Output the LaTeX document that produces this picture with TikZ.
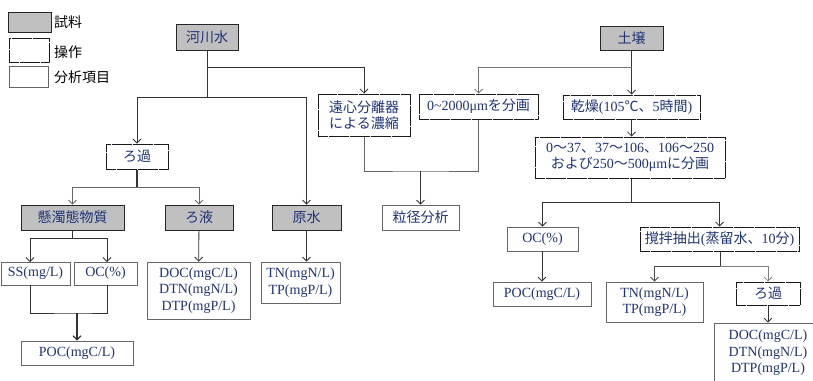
\documentclass[tikz,border=0pt]{standalone}
\usepackage{fontspec}
\setmainfont{Liberation Serif}
\newfontfamily\jp{Noto Sans CJK JP}
\usetikzlibrary{arrows.meta,calc}
\definecolor{textblue}{RGB}{32,52,118}
\definecolor{sample}{RGB}{192,192,192}
\tikzset{
  box/.style={inner sep=0pt, align=center, text=textblue, font=\fontsize{14}{16.5}\selectfont},
  samplebox/.style={box, draw=black!85, fill=sample, line width=0.8pt},
  opbox/.style={box, draw=black!90, dash pattern=on 0.7pt off 0.35pt, line width=1pt, fill=white},
  anabox/.style={box, draw=black!60, line width=0.8pt, fill=white},
  conn/.style={draw=black!80, line width=0.8pt},
  arr/.style={conn, -{Straight Barb[length=4pt,width=8pt]}},
  legtext/.style={anchor=west, inner sep=0pt, font=\jp\fontsize{14}{16}\selectfont}
}
\begin{document}
\begin{tikzpicture}[x=1pt,y=-1pt]
\useasboundingbox (0,0) rectangle (813,380);
\clip (0,0) rectangle (813,380);
% legend
\node[samplebox, minimum width=43pt, minimum height=20pt] (l1) at (29.5,22) {};
\node[legtext] (l1t) at (54,22) {試料};
\node[opbox, minimum width=40pt, minimum height=24pt] (l2) at (29,50) {};
\node[legtext] (l2t) at (54,52) {操作};
\node[anabox, minimum width=39pt, minimum height=21pt] (l3) at (28.5,76.5) {};
\node[legtext] (l3t) at (54,77) {分析項目};
% nodes
\node[samplebox, minimum width=62pt, minimum height=26pt] (kasen) at (207,37) {\jp 河川水};
\node[opbox, minimum width=92pt, minimum height=42pt] (enshin) at (364,115) {\jp 遠心分離器\\\jp による濃縮};
\node[opbox, minimum width=119pt, minimum height=25pt] (bunkaku) at (478.5,106.5) {0\textasciitilde2000μm{\jp を分画}};
\node[samplebox, minimum width=63pt, minimum height=24pt] (dojo) at (631.5,38) {\jp 土壌};
\node[opbox, minimum width=137pt, minimum height=24pt] (kanso) at (631.5,107) {{\jp 乾燥}(105{\jp ℃、}5{\jp 時間})};
\node[opbox, minimum width=190pt, minimum height=41pt] (big) at (630,157.5) {0{\jp ～}37{\jp 、}37{\jp ～}106{\jp 、}106{\jp ～}250\\{\jp および}250{\jp ～}500μm{\jp に分画}};
\node[opbox, minimum width=62pt, minimum height=25pt] (roka1) at (137,156.5) {\jp ろ過};
\node[samplebox, minimum width=103pt, minimum height=25pt] (kendaku) at (72.5,217.5) {\jp 懸濁態物質};
\node[samplebox, minimum width=68pt, minimum height=25pt] (roeki) at (199,217.5) {\jp ろ液};
\node[samplebox, minimum width=69pt, minimum height=25pt] (gensui) at (306.5,217.5) {\jp 原水};
\node[anabox, minimum width=77pt, minimum height=25pt] (ryukei) at (420.5,217.5) {\jp 粒径分析};
\node[anabox, minimum width=71pt, minimum height=24pt] (oc2) at (542.5,239) {OC(\%)};
\node[opbox, minimum width=159pt, minimum height=24pt] (kakuhan) at (719.5,239) {{\jp 撹拌抽出}({\jp 蒸留水、}10{\jp 分})};
\node[anabox, minimum width=69pt, minimum height=23pt] (ss) at (35.5,273.5) {SS(mg/L)};
\node[anabox, minimum width=63pt, minimum height=23pt] (oc1) at (105.5,273.5) {OC(\%)};
\node[anabox, minimum width=112pt, minimum height=24pt] (poc1) at (77,353) {POC(mgC/L)};
\node[anabox, minimum width=103pt, minimum height=57pt] (doc1) at (198.5,290.5) {DOC(mgC/L)\\DTN(mgN/L)\\DTP(mgP/L)};
\node[anabox, minimum width=79pt, minimum height=41pt] (tn1) at (300.5,282.5) {TN(mgN/L)\\TP(mgP/L)};
\node[anabox, minimum width=98pt, minimum height=24pt] (poc2) at (542,294) {POC(mgC/L)};
\node[anabox, minimum width=97pt, minimum height=40pt] (tn2) at (654.5,302) {TN(mgN/L)\\TP(mgP/L)};
\node[opbox, minimum width=64pt, minimum height=23pt] (roka2) at (768,293.5) {\jp ろ過};
\node[anabox, minimum width=108pt, minimum height=60pt] (doc2) at (768,353) {DOC(mgC/L)\\DTN(mgN/L)\\DTP(mgP/L)};
% junctions
\coordinate (j1) at (207,97);
\coordinate (j2) at (207,67);
\coordinate (j3) at (631.5,67);
\coordinate (j4) at (631,202);
\coordinate (j5) at (420.5,171);
\coordinate (j6) at (137,187);
\coordinate (j7) at (72.5,238);
\coordinate (j8) at (77,313);
\coordinate (j9) at (720,266);
\coordinate (ssin) at (30,262);
\coordinate (ssout) at (30,285);
\coordinate (oc1in) at (107,262);
\coordinate (oc1out) at (107,285);
% connectors
\draw[conn] (kasen) -- (j1);
\draw[arr] (j1) -| (roka1);
\draw[arr] (j1) -| (gensui);
\draw[arr] (j2) -| (enshin);
\draw[arr] (dojo) -- (kanso);
\draw[arr, draw=black!55] (j3) -| (bunkaku);
\draw[arr] (kanso) -- (kanso.south|-big.north);
\draw[conn] (big.south-|j4) -- (j4);
\draw[arr] (j4) -| (oc2);
\draw[arr] (j4) -| (kakuhan);
\draw[conn, draw=black!60] (enshin) |- (j5) -| (bunkaku);
\draw[arr] (j5) -- (ryukei);
\draw[conn, line width=1.2pt] (roka1) -- (j6);
\draw[arr, draw=black!60] (j6) -| (kendaku);
\draw[arr, draw=black!60] (j6) -| (roeki);
\draw[conn] (kendaku) -- (j7);
\draw[arr] (j7) -| (ssin);
\draw[arr] (j7) -| (oc1in);
\draw[conn] (ssout) |- (j8) -| (oc1out);
\draw[arr, line width=1.2pt] (j8) -- (poc1);
\draw[arr] (roeki) -- (doc1);
\draw[arr] (gensui) -- (gensui.south|-tn1.north);
\draw[arr] (oc2.south-|poc2) -- (poc2);
\draw[conn] (kakuhan.south-|j9) -- (j9);
\draw[arr, draw=black!70] (j9) -| (tn2);
\draw[arr, draw=black!50] (j9) -| (roka2);
\draw[arr] (roka2) -- (doc2);
\end{tikzpicture}
\end{document}
